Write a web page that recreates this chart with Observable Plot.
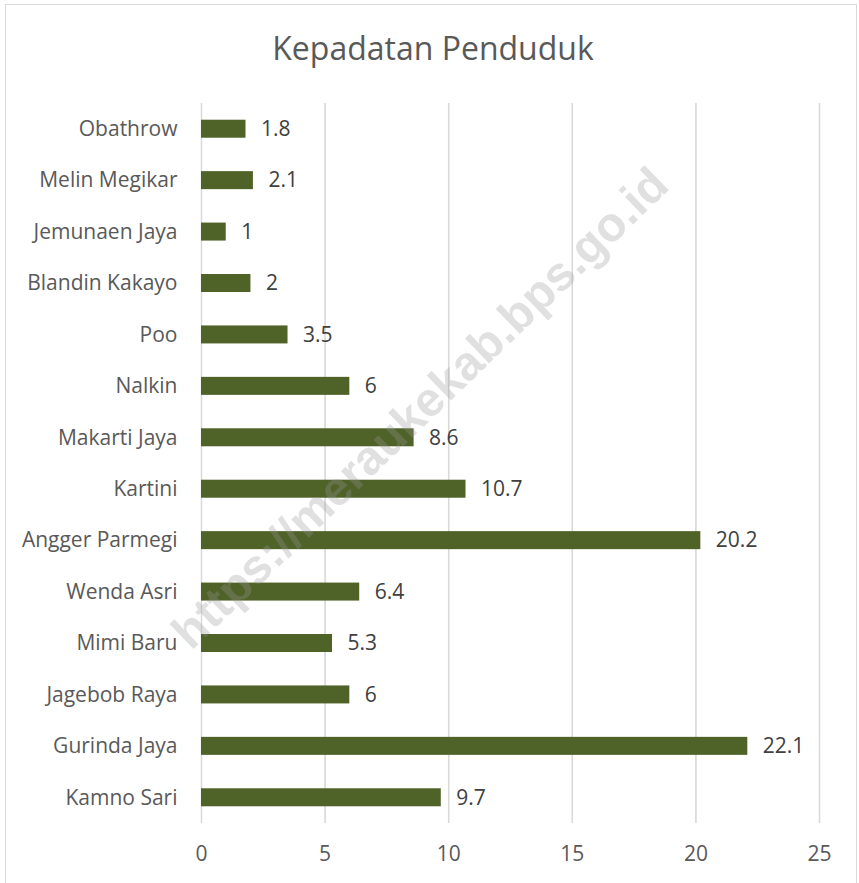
<!DOCTYPE html>
<html>
<head>
<meta charset="utf-8">
<script src="https://cdn.jsdelivr.net/npm/d3@7"></script>
<script src="https://cdn.jsdelivr.net/npm/@observablehq/plot@0.6"></script>
<style>
  html, body { margin: 0; padding: 0; background: #fff; }
  #wrap { position: relative; width: 859px; height: 883px; overflow: hidden; font-family: "Open Sans", sans-serif; }
  #border { position: absolute; left: 5px; top: 4px; width: 852px; height: 890px; border: 1px solid #d9d9d9; box-sizing: border-box; }
  #title { position: absolute; left: 0; top: 27px; width: 866px; text-align: center; font-size: 32px; line-height: 42px; color: #595959; }
  #chart { position: absolute; left: 0; top: 0; }
</style>
</head>
<body>
<div id="wrap">
  <div id="border"></div>
  <div id="title">Kepadatan Penduduk</div>
  <div id="chart"></div>
</div>
<script>
const villages = ["Obathrow", "Melin Megikar", "Jemunaen Jaya", "Blandin Kakayo", "Poo", "Nalkin", "Makarti Jaya", "Kartini", "Angger Parmegi", "Wenda Asri", "Mimi Baru", "Jagebob Raya", "Gurinda Jaya", "Kamno Sari"];
const density = [1.8, 2.1, 1, 2, 3.5, 6, 8.6, 10.7, 20.2, 6.4, 5.3, 6, 22.1, 9.7];
const xTicks = [0, 5, 10, 15, 20, 25];
const watermark = ["https://meraukekab.bps.go.id"];

const data = villages.map((v, i) => ({village: v, value: density[i]}));

const chart = Plot.plot({
  width: 859,
  height: 883,
  marginLeft: 201,
  marginRight: 40,
  marginTop: 103,
  marginBottom: 60,
  style: {fontFamily: "'Open Sans', sans-serif", fontSize: "21px", background: "transparent", overflow: "visible"},
  x: {domain: [0, 25], ticks: xTicks, tickSize: 0, tickPadding: 24, label: null, grid: true, round: false},
  y: {domain: villages, paddingInner: 0.65, paddingOuter: 0.325, round: false, tickSize: 0, tickPadding: 24, label: null},
  marks: [
    Plot.gridX(xTicks, {stroke: "#d9d9d9", strokeOpacity: 1, strokeWidth: 1.5}),
    Plot.barX(data, {x: "value", y: "village", fill: "#4f6228"}),
    Plot.text(data, {x: "value", y: "village", text: d => String(d.value), textAnchor: "start", dx: 15, fill: "#404040", fontSize: 21}),
    Plot.axisX({ticks: xTicks, tickSize: 0, tickPadding: 23, fill: "#595959", fontSize: 21, label: null}),
    Plot.axisY({tickSize: 0, tickPadding: 24, fill: "#595959", fontSize: 21, label: null}),
    Plot.text(watermark, {frameAnchor: "middle", text: d => d, rotate: -44, dx: -90, dy: -55, fill: "#999999", fillOpacity: 0.3, fontSize: 48, fontWeight: "bold", fontFamily: "'Liberation Sans', Arial, sans-serif"})
  ]
});
document.getElementById("chart").appendChild(chart);
</script>
</body>
</html>
